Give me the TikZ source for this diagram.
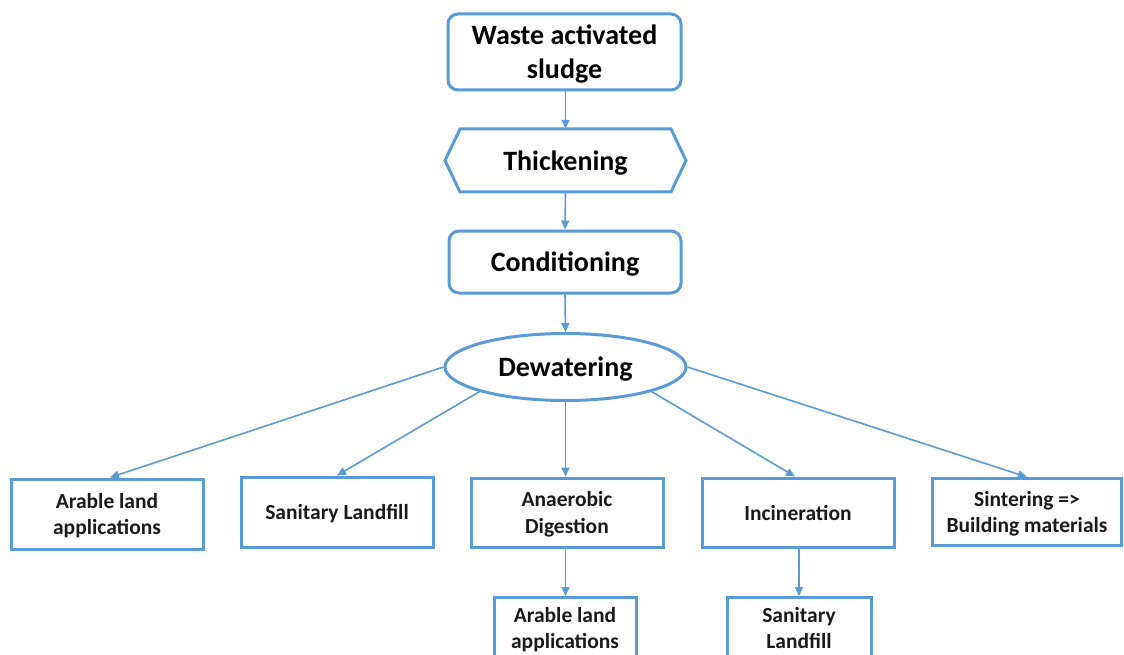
\documentclass[tikz,border=0pt]{standalone}
\usepackage{fontspec}
\setmainfont{Carlito}
\usetikzlibrary{shapes.geometric,arrows.meta}
\definecolor{obl}{HTML}{5B9BD5}
\definecolor{txt}{HTML}{1A1A1A}
\tikzset{
  big/.style={font=\bfseries\fontsize{28}{34}\selectfont, text=black, align=center, inner sep=0pt, text depth=0pt},
  small/.style={font=\bfseries\fontsize{21.5}{26.5}\selectfont, text=txt, align=center, inner sep=0pt, text depth=0pt, draw=obl, line width=3pt},
  rbox/.style={big, draw=obl, line width=3pt, rounded corners=10pt},
  conn/.style={draw=obl, line width=1.6pt, -{Triangle[length=9pt,width=8pt]}}
}
\begin{document}
\begin{tikzpicture}[x=1pt,y=-1pt]
\useasboundingbox (0,0) rectangle (1124,655);
\clip (0,0) rectangle (1124,655);
% top
\node[rbox, minimum width=233pt, minimum height=76pt] (was) at (564.5,52) {Waste activated\\sludge};
% hexagon
\draw[obl, line width=3pt, line join=miter] (445,160.5) -- (460,129) -- (671,129) -- (686,160.5) -- (671,192) -- (460,192) -- cycle;
\node[big, minimum width=241pt, minimum height=63pt] (thk) at (565.5,160.5) {Thickening};
% conditioning
\node[rbox, minimum width=232pt, minimum height=62pt] (con) at (565,262) {Conditioning};
% dewatering
\node[big, ellipse, draw=obl, line width=3pt, minimum width=241pt, minimum height=67pt] (dew) at (565.5,367) {Dewatering};
% second level
\node[small, minimum width=192pt, minimum height=70pt] (b1) at (107,514) {Arable land\\applications};
\node[small, minimum width=192pt, minimum height=70pt] (b2) at (337,512) {Sanitary Landfill};
\node[small, minimum width=192pt, minimum height=69pt] (b3) at (567,512.5) {Anaerobic\\Digestion};
\node[small, minimum width=192pt, minimum height=69pt] (b4) at (798,512.5) {Incineration};
\node[small, minimum width=189pt, minimum height=67pt] (b5) at (1027,512) {Sintering =>\\Building materials};
% third level
\node[small, minimum width=142pt, minimum height=70pt, anchor=north] (b6) at (565,596) {};
\node[small, minimum width=144pt, minimum height=70pt, anchor=north] (b7) at (799,596) {};
\node[small, draw=none] (t6) at (565,628) {Arable land\\applications};
\node[small, draw=none] (t7) at (799,628) {Sanitary\\Landfill};
% connectors
\draw[conn] (was.south -| thk.north) -- (thk.north);
\draw[conn] (thk.south) -- (con.north);
\draw[conn] (con.south) -- (dew.north);
\draw[conn] (dew.west) -- ([xshift=3pt]b1.north);
\draw[conn] (dew.196) -- (b2.north);
\draw[conn] (dew.south) -- (dew.south |- b3.north);
\draw[conn] (dew.344) -- ([xshift=-3pt]b4.north);
\draw[conn] (dew.east) -- (b5.north);
\draw[conn] (dew.south |- b3.south) -- (dew.south |- b6.north);
\draw[conn] (b7.north |- b4.south) -- (b7.north);
\end{tikzpicture}
\end{document}
